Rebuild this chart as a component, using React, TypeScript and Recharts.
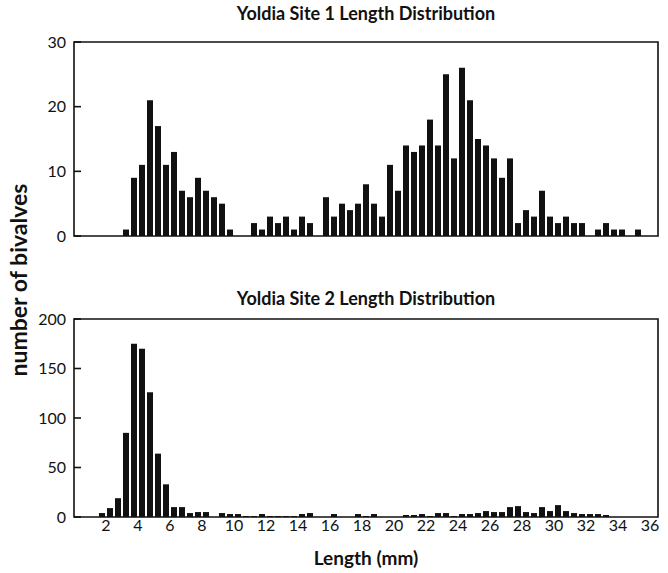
import { BarChart, Bar, XAxis, YAxis, ReferenceArea } from "recharts";

// midpoint of each 0.5 mm length class
const lengthMm = [
  1.75, 2.25, 2.75, 3.25, 3.75, 4.25, 4.75, 5.25, 5.75, 6.25, 6.75, 7.25,
  7.75, 8.25, 8.75, 9.25, 9.75, 10.25, 10.75, 11.25, 11.75, 12.25, 12.75, 13.25,
  13.75, 14.25, 14.75, 15.25, 15.75, 16.25, 16.75, 17.25, 17.75, 18.25, 18.75, 19.25,
  19.75, 20.25, 20.75, 21.25, 21.75, 22.25, 22.75, 23.25, 23.75, 24.25, 24.75, 25.25,
  25.75, 26.25, 26.75, 27.25, 27.75, 28.25, 28.75, 29.25, 29.75, 30.25, 30.75, 31.25,
  31.75, 32.25, 32.75, 33.25, 33.75, 34.25, 34.75, 35.25
];

const site1Counts = [
  0, 0, 0, 1, 9, 11, 21, 17, 11, 13, 7, 6,
  9, 7, 6, 5, 1, 0, 0, 2, 1, 3, 2, 3,
  1, 3, 2, 0, 6, 3, 5, 4, 5, 8, 5, 3,
  11, 7, 14, 13, 14, 18, 14, 25, 12, 26, 21, 15,
  14, 12, 9, 12, 2, 4, 3, 7, 3, 2, 3, 2,
  2, 0, 1, 2, 1, 1, 0, 1
];

const site2Counts = [
  4, 9, 19, 85, 175, 170, 126, 64, 33, 10, 10, 4,
  5, 5, 0, 4, 3, 3, 1, 1, 3, 1, 1, 1,
  1, 3, 4, 0, 0, 3, 0, 0, 3, 1, 3, 0,
  0, 0, 2, 2, 3, 1, 4, 4, 1, 3, 3, 4,
  6, 5, 5, 10, 11, 5, 4, 10, 6, 12, 6, 4,
  3, 3, 3, 2, 0, 0, 0, 0
];

const xTicks = [2, 4, 6, 8, 10, 12, 14, 16, 18, 20, 22, 24, 26, 28, 30, 32, 34, 36];
const site1YTicks = [0, 10, 20, 30];
const site2YTicks = [0, 50, 100, 150, 200];

const site1Data = lengthMm.map((mm, i) => ({ mm, count: site1Counts[i] }));
const site2Data = lengthMm.map((mm, i) => ({ mm, count: site2Counts[i] }));

const INK = "#111";
const FONT = "Lato, sans-serif";

// y tick with the tick mark pointing into the plot
const InTick = (props: any) => {
  const { x, y, payload } = props;
  return (
    <g>
      <line x1={x + 8} x2={x + 15} y1={y} y2={y} stroke={INK} strokeWidth={1.6} />
      <text x={x} y={y} dy={5.5} textAnchor="end" fill={INK} fontSize={16} fontFamily={FONT}>
        {payload.value}
      </text>
    </g>
  );
};

const titleStyle: React.CSSProperties = {
  position: "absolute",
  left: 74,
  width: 584,
  textAlign: "center",
  fontWeight: 700,
  fontSize: 18,
  color: INK,
  lineHeight: "22px"
};

export default function App() {
  return (
    <div
      style={{
        position: "absolute",
        left: 0,
        top: 0,
        width: 668,
        height: 573,
        background: "#fff",
        fontFamily: FONT
      }}
    >
      <div style={{ ...titleStyle, top: 2 }}>Yoldia Site 1 Length Distribution</div>

      <div style={{ position: "absolute", left: 0, top: 0 }}>
        <BarChart
          width={668}
          height={250}
          data={site1Data}
          margin={{ top: 42, right: 10, bottom: 14, left: 34 }}
        >
          <XAxis type="number" dataKey="mm" domain={[0, 36.5]} hide />
          <YAxis
            width={40}
            domain={[0, 30]}
            ticks={site1YTicks}
            axisLine={false}
            tickLine={false}
            tickSize={0}
            tickMargin={8}
            tick={<InTick />}
          />
          <ReferenceArea x1={0} x2={36.5} y1={0} y2={30} fill="none" stroke={INK} strokeWidth={1.6} />
          <Bar dataKey="count" fill={INK} barSize={6} isAnimationActive={false} />
        </BarChart>
      </div>

      <div style={{ ...titleStyle, top: 287 }}>Yoldia Site 2 Length Distribution</div>

      <div style={{ position: "absolute", left: 0, top: 280 }}>
        <BarChart
          width={668}
          height={293}
          data={site2Data}
          margin={{ top: 39, right: 10, bottom: 26, left: 34 }}
        >
          <XAxis
            type="number"
            dataKey="mm"
            domain={[0, 36.5]}
            ticks={xTicks}
            height={30}
            axisLine={false}
            tickLine={false}
            tickSize={0}
            tickMargin={3}
            tick={{ fill: INK, fontSize: 16, fontFamily: FONT }}
          />
          <YAxis
            width={40}
            domain={[0, 200]}
            ticks={site2YTicks}
            axisLine={false}
            tickLine={false}
            tickSize={0}
            tickMargin={8}
            tick={<InTick />}
          />
          <ReferenceArea x1={0} x2={36.5} y1={0} y2={200} fill="none" stroke={INK} strokeWidth={1.6} />
          <Bar dataKey="count" fill={INK} barSize={6} isAnimationActive={false} />
        </BarChart>
      </div>

      <div
        style={{
          position: "absolute",
          left: 18 - 120,
          top: 280 - 13,
          width: 240,
          height: 26,
          lineHeight: "26px",
          textAlign: "center",
          transform: "rotate(-90deg)",
          fontWeight: 700,
          fontSize: 23,
          color: INK
        }}
      >
        number of bivalves
      </div>

      <div
        style={{
          position: "absolute",
          left: 74,
          width: 584,
          top: 547,
          textAlign: "center",
          fontWeight: 700,
          fontSize: 19,
          lineHeight: "22px",
          color: INK
        }}
      >
        Length (mm)
      </div>
    </div>
  );
}
